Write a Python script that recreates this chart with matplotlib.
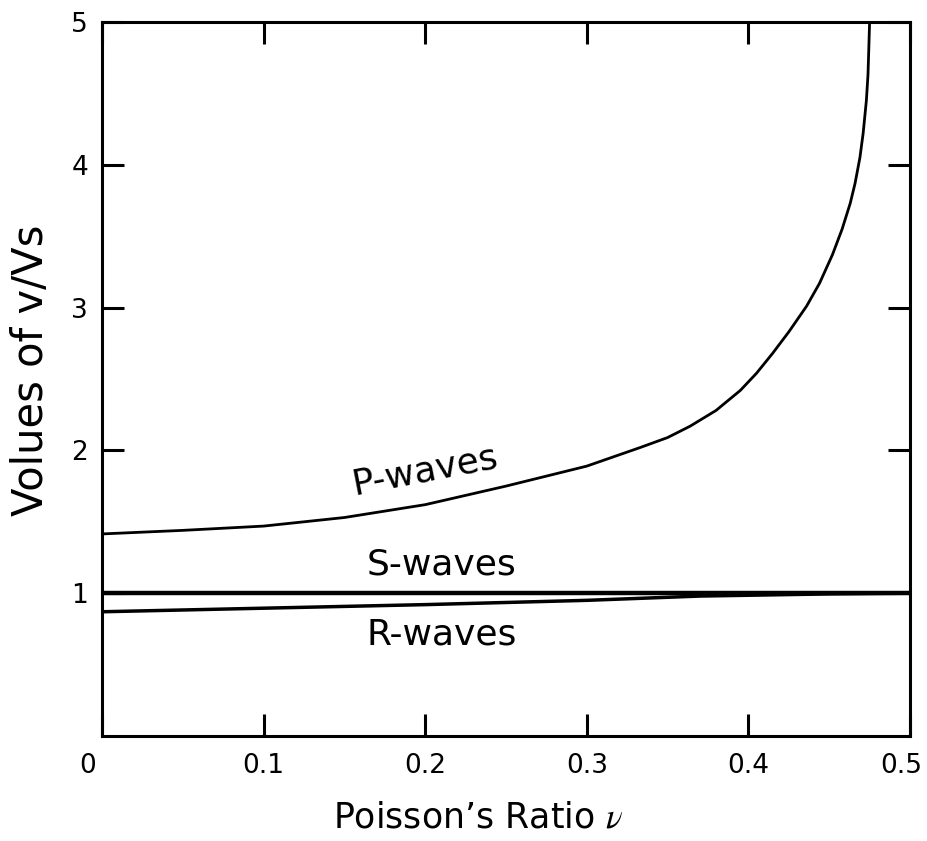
import matplotlib
matplotlib.use("Agg")
import matplotlib.pyplot as plt
from matplotlib.transforms import ScaledTranslation

plt.rcParams["font.family"] = ["DejaVu Sans"]
plt.rcParams["mathtext.fontset"] = "stix"

# values
p_nu = [0.0, 0.05, 0.1, 0.15, 0.2, 0.25, 0.275, 0.3, 0.333, 0.35, 0.364,
        0.38, 0.395, 0.405, 0.415, 0.425, 0.436, 0.444, 0.452, 0.458, 0.463,
        0.466, 0.469, 0.471, 0.473, 0.474, 0.4745, 0.475]
p_ratio = [1.415, 1.44, 1.47, 1.53, 1.62, 1.75, 1.82, 1.89, 2.02, 2.09, 2.17,
           2.28, 2.42, 2.54, 2.68, 2.83, 3.01, 3.17, 3.37, 3.55, 3.73,
           3.87, 4.05, 4.22, 4.45, 4.63, 4.81, 5.0]
s_nu = [0.0, 0.5]
s_ratio = [1.0, 1.0]
r_nu = [0.0, 0.1, 0.2, 0.3, 0.37, 0.45, 0.5]
r_ratio = [0.87, 0.895, 0.92, 0.95, 0.98, 0.995, 1.0]

x_ticks = [0, 0.1, 0.2, 0.3, 0.4, 0.5]
x_tick_labels = ["0", "0.1", "0.2", "0.3", "0.4", "0.5"]
y_ticks = [1, 2, 3, 4, 5]

fig = plt.figure(figsize=(9.28, 8.41), dpi=100)
ax = fig.add_axes([102 / 928, 105 / 841, 808 / 928, 714 / 841])

ax.plot(p_nu, p_ratio, color="black", lw=2.0, solid_joinstyle="round")
ax.plot(s_nu, s_ratio, color="black", lw=3.2)
ax.plot(r_nu, r_ratio, color="black", lw=2.5)

ax.set_xlim(0, 0.5)
ax.set_ylim(0, 5)
ax.set_xticks(x_ticks)
ax.set_xticklabels(x_tick_labels)
ax.set_yticks(y_ticks)
ax.tick_params(direction="in", length=16, width=2.2, top=True, right=True,
               labelsize=19, colors="black")
ax.tick_params(axis="x", pad=12)
ax.tick_params(axis="y", pad=10)
for sp in ax.spines.values():
    sp.set_linewidth(2.2)

# end labels sit a bit off their ticks in the original
xl = ax.get_xticklabels()
xl[0].set_transform(xl[0].get_transform()
                    + ScaledTranslation(-14 / 100, 0, fig.dpi_scale_trans))
xl[-1].set_transform(xl[-1].get_transform()
                     + ScaledTranslation(-9 / 100, 0, fig.dpi_scale_trans))

ax.text(0.20, 1.86, "P-waves", fontsize=26, rotation=11,
        ha="center", va="center")
ax.text(0.21, 1.20, "S-waves", fontsize=26, ha="center", va="center")
ax.text(0.21, 0.71, "R-waves", fontsize=26, ha="center", va="center")

fig.text(31 / 928, 1 - 370 / 841, "Volues of v/Vs", fontsize=30,
         rotation=90, ha="center", va="center")
fig.text(478 / 928, 1 - 818 / 841, "Poisson\u2019s Ratio $\\nu$", fontsize=25,
         ha="center", va="center")

fig.savefig("out.png", dpi=100)
